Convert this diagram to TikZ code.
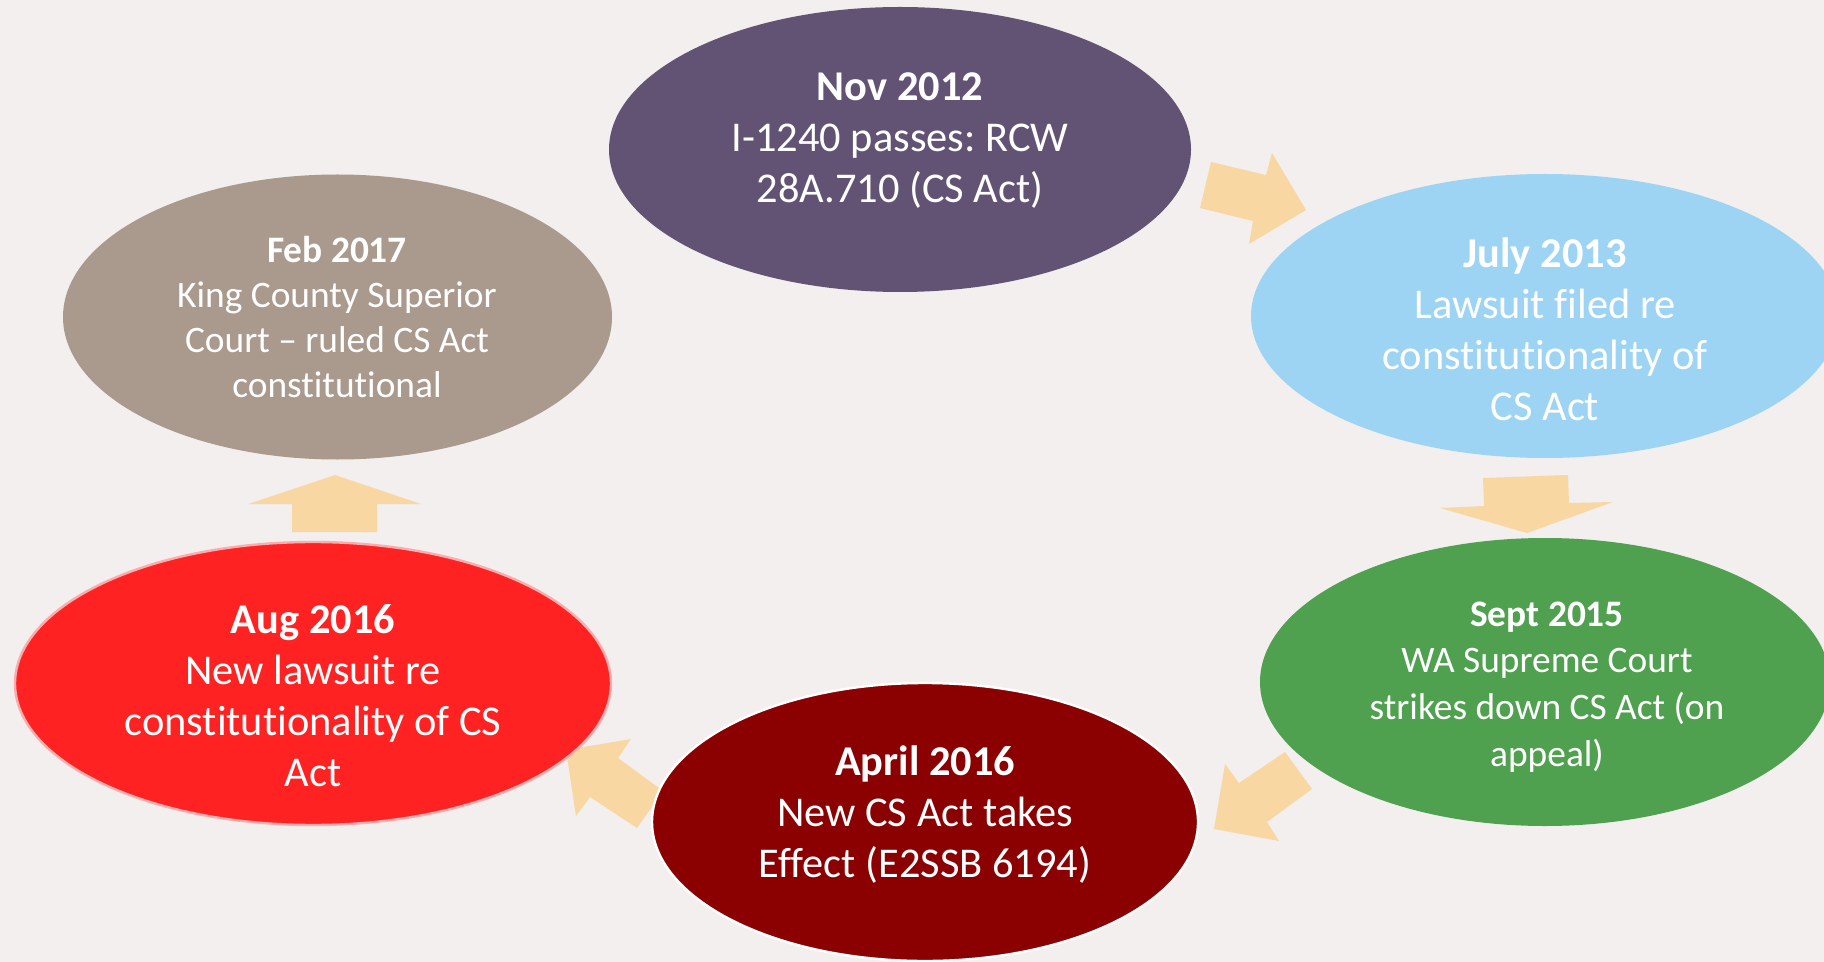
\documentclass[tikz,border=0pt]{standalone}
\usepackage{fontspec}
\setmainfont{Carlito}[Ligatures={NoCommon}]
\frenchspacing
\usetikzlibrary{shapes.geometric}
\definecolor{bg}{HTML}{F2EFEE}
\definecolor{cnov}{HTML}{625375}
\definecolor{cjul}{HTML}{9DD4F3}
\definecolor{csep}{HTML}{4FA04F}
\definecolor{capr}{HTML}{8B0000}
\definecolor{caug}{HTML}{FF2222}
\definecolor{caugb}{HTML}{F8AEAE}
\definecolor{cfeb}{HTML}{A99A8D}
\definecolor{carr}{HTML}{F9D7A2}
\tikzset{
  ev/.style={ellipse, inner sep=0pt, outer sep=0pt},
  txt/.style={text=white, align=center, inner sep=0pt},
  bigtxt/.style={txt, font=\fontsize{21.2}{25.5}\selectfont},
  smalltxt/.style={txt, font=\fontsize{18.7}{22.5}\selectfont},
  blockarrow/.style={fill=carr}
}
\begin{document}
\begin{tikzpicture}[x=0.5pt,y=-0.5pt]
\useasboundingbox (0,0) rectangle (1824,962);
\fill[bg] (0,0) rectangle (1824,962);
\begin{scope}
\clip (0,0) rectangle (1824,962);
% block arrows
\fill[blockarrow] (1211,162) -- (1266,175) -- (1272,153) -- (1306,210) -- (1249,244) -- (1253,221) -- (1200,208) -- cycle;
\fill[blockarrow] (1483,478) -- (1568,475) -- (1569,503) -- (1613,502) -- (1527,533) -- (1440,508) -- (1484,506) -- cycle;
\fill[blockarrow] (1285,752) -- (1312,789) -- (1267,822) -- (1279,841) -- (1214,829) -- (1225,764) -- (1239,783) -- cycle;
\fill[blockarrow] (631,739) -- (618,758) -- (663,791) -- (637,828) -- (590,797) -- (576,816) -- (566,750) -- cycle;
\fill[blockarrow] (335,475) -- (421,504) -- (377,504) -- (377,532) -- (292,532) -- (292,504) -- (248,504) -- cycle;
% ellipses
\node[ev, fill=cnov, minimum width=291pt, minimum height=142.5pt] (enov) at (900,149.5) {};
\node[ev, fill=cjul, minimum width=294pt, minimum height=142pt] (ejul) at (1545,316) {};
\node[ev, fill=csep, minimum width=285pt, minimum height=144pt] (esep) at (1545,682) {};
\node[ev, fill=capr, draw=white, line width=1.2pt, minimum width=273pt, minimum height=139pt] (eapr) at (925,822) {};
\node[ev, fill=caug, draw=caugb, line width=1.2pt, minimum width=298pt, minimum height=141.5pt] (eaug) at (313,683.5) {};
\node[ev, fill=cfeb, minimum width=274.5pt, minimum height=142.5pt] (efeb) at (337.5,317) {};
% texts
\node[bigtxt] (tnov) at (900,140.5) {\textbf{Nov 2012}\\I-1240 passes: RCW\\28A.710 (CS Act)};
\node[bigtxt] (tjul) at (1545,329) {\textbf{July 2013}\\Lawsuit filed re\\constitutionality of\\CS Act};
\node[smalltxt, font=\fontsize{18.7}{23.3}\selectfont] (tsep) at (1547,687) {\textbf{Sept 2015}\\WA Supreme Court\\strikes down CS Act (on\\appeal)};
\node[bigtxt] (tapr) at (925,815) {\textbf{April 2016}\\New CS Act takes\\Effect (E2SSB 6194)};
\node[bigtxt] (taug) at (313,695.5) {\textbf{Aug 2016}\\New lawsuit re\\constitutionality of CS\\Act};
\node[smalltxt] (tfeb) at (337,317) {\textbf{Feb 2017}\\King County Superior\\Court -- ruled CS Act\\constitutional};
\end{scope}
\end{tikzpicture}
\end{document}
